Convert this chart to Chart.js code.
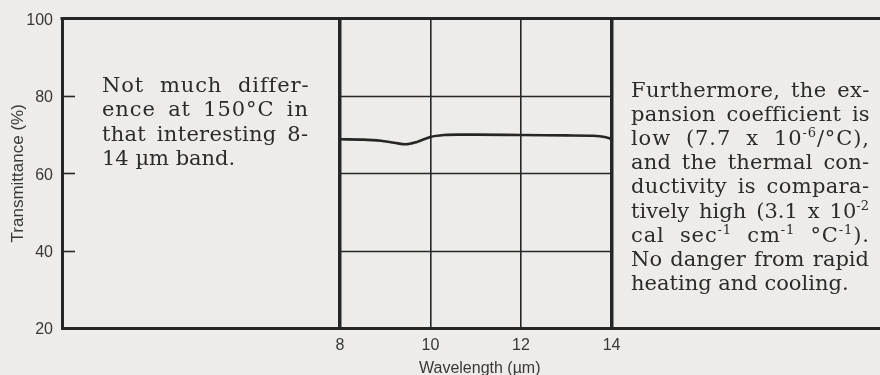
<!DOCTYPE html>
<html>
<head>
<meta charset="utf-8">
<script src="https://cdn.jsdelivr.net/npm/chart.js@4.4.1/dist/chart.umd.min.js"></script>
<style>
  html, body { margin: 0; padding: 0; background: #edecea; }
  #wrap { width: 880px; height: 375px; }
</style>
</head>
<body>
<div id="wrap"><canvas id="chart" width="880" height="375"></canvas></div>
<script>
// ── data ─────────────────────────────────────
// transmittance across the 8–14 µm band at 150°C
const wavelength = [8.0, 8.5, 8.9, 9.2, 9.45, 9.7, 10.0, 10.3, 10.6, 11.0, 12.0, 13.0, 13.6, 13.85, 14.0];
const transmittance = [68.8, 68.7, 68.4, 67.9, 67.5, 68.1, 69.4, 69.9, 70.0, 70.0, 69.9, 69.8, 69.7, 69.4, 68.9];

const xTicks = [8, 10, 12, 14];
const yTicks = [20, 40, 60, 80, 100];
const band = [8, 14];            // grid only drawn inside this range
const bandRules = [40, 60, 80];  // horizontal rules inside the band

// side notes, ^{..} marks a superscript
const leftNote = [
  "Not much differ-",
  "ence at 150°C in",
  "that interesting 8-",
  "14 µm band.",
];
const rightNote = [
  "Furthermore, the ex-",
  "pansion coefficient is",
  "low (7.7 x 10^{-6}/°C),",
  "and the thermal con-",
  "ductivity is compara-",
  "tively high (3.1 x 10^{-2}",
  "cal sec^{-1} cm^{-1} °C^{-1}).",
  "No danger from rapid",
  "heating and cooling.",
];

// ── styles ───────────────────────────────────
const INK = "#262626";
const AXIS_TXT = "#383838";
const SANS = "'Liberation Sans', Arial, sans-serif";
const BODY_FONT = "21px 'DejaVu Serif', serif";
const SUP_FONT = "13px 'DejaVu Serif', serif";
const WORD_GAP = 11;     // preferred space before tracking kicks in
const MAX_TRACK = 0.9;   // letter spacing cap for justified lines

const notes = [
  { lines: leftNote, left: 102, right: 308, base: 91.5, lead: 24.5 },
  { lines: rightNote, left: 631, right: 869, base: 96.5, lead: 24.2 },
];

function parseWord(w) {
  const segs = [];
  const re = /\^\{([^}]*)\}/g;
  let last = 0, m;
  while ((m = re.exec(w))) {
    if (m.index > last) segs.push({ t: w.slice(last, m.index), sup: false });
    segs.push({ t: m[1], sup: true });
    last = re.lastIndex;
  }
  if (last < w.length) segs.push({ t: w.slice(last), sup: false });
  return segs;
}

function segWidth(ctx, g) {
  ctx.font = g.sup ? SUP_FONT : BODY_FONT;
  return ctx.measureText(g.t).width;
}

// justified paragraph (space + a little tracking), last line left aligned
function drawNote(ctx, note) {
  ctx.fillStyle = "#2b2b2b";
  ctx.textAlign = "left";
  ctx.textBaseline = "alphabetic";
  note.lines.forEach((line, i) => {
    const words = line.split(" ").map(parseWord);
    const total = words.reduce((s, segs) => s + segs.reduce((t, g) => t + segWidth(ctx, g), 0), 0);
    const chars = words.reduce((s, segs) => s + segs.reduce((t, g) => t + g.t.length, 0) - 1, 0);
    ctx.font = BODY_FONT;
    const isLast = i === note.lines.length - 1;
    let track = 0;
    let gap = ctx.measureText(" ").width;
    if (!isLast && words.length > 1) {
      const slack = note.right - note.left - total - WORD_GAP * (words.length - 1);
      track = Math.max(0, Math.min(MAX_TRACK, slack / chars));
      gap = (note.right - note.left - total - track * chars) / (words.length - 1);
    }
    const py = note.base + i * note.lead;
    let px = note.left;
    words.forEach((segs) => {
      segs.forEach((g, gi) => {
        ctx.font = g.sup ? SUP_FONT : BODY_FONT;
        const y = g.sup ? py - 8 : py;
        for (let c = 0; c < g.t.length; c++) {
          const ch = g.t[c];
          ctx.fillText(ch, px, y);
          px += ctx.measureText(ch).width;
          const lastChar = gi === segs.length - 1 && c === g.t.length - 1;
          if (!lastChar) px += track;
        }
      });
      px += gap;
    });
  });
}

// frame top, band rules, inner ticks, notes and x title
const framePlugin = {
  id: "frame",
  beforeDatasetsDraw(chart) {
    const { ctx, chartArea: a, scales: { x, y } } = chart;
    const x0 = x.getPixelForValue(band[0]);
    const x1 = x.getPixelForValue(band[1]);
    ctx.save();
    ctx.strokeStyle = INK;
    ctx.lineWidth = 1.6;
    bandRules.forEach((v) => {
      const py = Math.round(y.getPixelForValue(v)) + 0.5;
      ctx.beginPath();
      ctx.moveTo(x0, py);
      ctx.lineTo(x1, py);
      ctx.stroke();
      ctx.beginPath();
      ctx.moveTo(a.left, py);
      ctx.lineTo(a.left + 13, py);
      ctx.stroke();
    });
    ctx.lineWidth = 3;
    ctx.beginPath();
    ctx.moveTo(a.left - 1.5, a.top);
    ctx.lineTo(a.right, a.top);
    ctx.stroke();
    ctx.restore();
  },
  afterDraw(chart) {
    const { ctx, scales: { x } } = chart;
    ctx.save();
    notes.forEach((n) => drawNote(ctx, n));
    ctx.font = "16px " + SANS;
    ctx.fillStyle = AXIS_TXT;
    ctx.textAlign = "center";
    ctx.textBaseline = "alphabetic";
    const cx = (x.getPixelForValue(band[0]) + x.getPixelForValue(band[1])) / 2 + 4;
    ctx.fillText("Wavelength (µm)", cx, 373);
    ctx.restore();
  },
};

new Chart(document.getElementById("chart"), {
  type: "line",
  data: {
    datasets: [
      {
        data: wavelength.map((w, i) => ({ x: w, y: transmittance[i] })),
        borderColor: INK,
        borderWidth: 2.6,
        pointRadius: 0,
        cubicInterpolationMode: "monotone",
        fill: false,
      },
    ],
  },
  options: {
    responsive: false,
    animation: false,
    devicePixelRatio: 1,
    layout: { autoPadding: false, padding: { top: 17, right: 0, bottom: 0, left: 0 } },
    plugins: { legend: { display: false }, tooltip: { enabled: false } },
    scales: {
      x: {
        type: "linear",
        min: 1.86,
        max: 19.93,
        afterBuildTicks: (s) => { s.ticks = xTicks.map((v) => ({ value: v })); },
        afterFit: (s) => { s.height = 47; },
        grid: {
          color: INK,
          drawTicks: false,
          lineWidth: (c) => (c.tick && band.includes(c.tick.value) ? 3.5 : 1.6),
        },
        border: { display: true, color: INK, width: 3 },
        ticks: {
          color: AXIS_TXT,
          font: { family: SANS, size: 16 },
          padding: 8,
          maxRotation: 0,
          autoSkip: false,
        },
      },
      y: {
        min: 20,
        max: 100,
        afterBuildTicks: (s) => { s.ticks = yTicks.map((v) => ({ value: v })); },
        afterFit: (s) => { s.width = 62; },
        grid: { display: false, drawTicks: false },
        border: { display: true, color: INK, width: 3 },
        ticks: {
          color: AXIS_TXT,
          font: { family: SANS, size: 16 },
          padding: 9,
          labelOffset: 2,
        },
        title: {
          display: true,
          text: "Transmittance (%)",
          color: AXIS_TXT,
          font: { family: SANS, size: 17 },
          padding: { top: 8, bottom: 0 },
        },
      },
    },
  },
  plugins: [framePlugin],
});
</script>
</body>
</html>
